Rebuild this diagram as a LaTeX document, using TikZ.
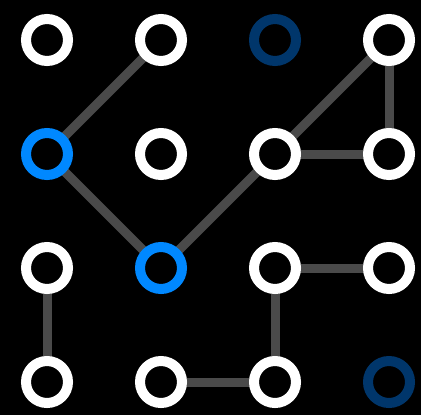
\documentclass[tikz,border=0pt]{standalone}
\pgfdeclarelayer{bg}
\pgfdeclarelayer{edges}
\pgfsetlayers{bg,edges,main}
\begin{document}
\begin{tikzpicture}[x=1pt,y=-1pt,
  dot/.style={circle,draw=white,fill=black,line width=10pt,minimum size=42pt,inner sep=0pt},
  sel/.style={dot,draw={rgb,255:red,0;green,136;blue,255}},
  dim/.style={dot,draw={rgb,255:red,0;green,54;blue,107}},
  edge/.style={draw={rgb,255:red,74;green,74;blue,74},line width=9pt}]
\begin{pgfonlayer}{bg}
\fill[black] (0,0) rectangle (421,415);
\end{pgfonlayer}
\useasboundingbox (0,0) rectangle (421,415);
\node[dot] (n11) at (47,40) {};
\node[dot] (n12) at (161,40) {};
\node[dim] (n13) at (275,40) {};
\node[dot] (n14) at (389,40) {};
\node[sel] (n21) at (47,154) {};
\node[dot] (n22) at (161,154) {};
\node[dot] (n23) at (275,154) {};
\node[dot] (n24) at (389,154) {};
\node[dot] (n31) at (47,268) {};
\node[sel] (n32) at (161,268) {};
\node[dot] (n33) at (275,268) {};
\node[dot] (n34) at (389,268) {};
\node[dot] (n41) at (47,382) {};
\node[dot] (n42) at (161,382) {};
\node[dot] (n43) at (275,382) {};
\node[dim] (n44) at (389,382) {};
\begin{pgfonlayer}{edges}
\path[edge] (n12.center) -- (n21.center);
\path[edge] (n21.center) -- (n32.center);
\path[edge] (n32.center) -- (n23.center);
\path[edge] (n23.center) -- (n14.center);
\path[edge] (n14.center) -- (n24.center);
\path[edge] (n23.center) -- (n24.center);
\path[edge] (n31.center) -- (n41.center);
\path[edge] (n33.center) -- (n34.center);
\path[edge] (n33.center) -- (n43.center);
\path[edge] (n42.center) -- (n43.center);
\end{pgfonlayer}
\end{tikzpicture}
\end{document}
